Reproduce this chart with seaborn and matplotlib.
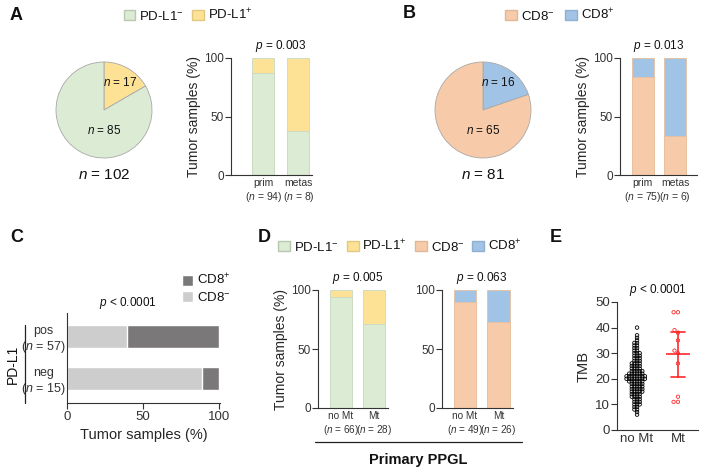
import numpy as np
import pandas as pd
import matplotlib
matplotlib.use("Agg")
import matplotlib.pyplot as plt
from matplotlib.patches import Patch
from matplotlib.lines import Line2D
import seaborn as sns

# Panel A: PD-L1 status
pdl1_pie_counts = [17, 85]          # PD-L1+, PD-L1-
pdl1_bar_groups = ["prim\n($n$ = 94)", "metas\n($n$ = 8)"]
pdl1_neg_pct = [87.2, 37.5]

# Panel B: CD8 status
cd8_pie_counts = [16, 65]           # CD8+, CD8-
cd8_bar_groups = ["prim\n($n$ = 75)", "metas\n($n$ = 6)"]
cd8_neg_pct = [84.0, 33.3]

# Panel C: CD8 by PD-L1 status
c_groups = ["pos\n($n$ = 57)", "neg\n($n$ = 15)"]
c_cd8_neg_pct = [39.7, 89.0]

# Panel D: primary PPGL, mutation vs no mutation
d_pdl1_groups = ["no Mt\n($n$ = 66)", "Mt\n($n$ = 28)"]
d_pdl1_neg_pct = [93.9, 71.4]
d_cd8_groups = ["no Mt\n($n$ = 49)", "Mt\n($n$ = 26)"]
d_cd8_neg_pct = [89.8, 73.1]

# Panel E: TMB
tmb_nomt_values = [6, 7, 8, 9, 10, 11, 12, 13, 14, 15, 16, 17, 18, 19, 20, 21, 22,
                   23, 24, 25, 26, 27, 28, 29, 30, 31, 32, 33, 34, 35, 36, 37, 40]
tmb_nomt_counts = [1, 1, 2, 2, 3, 3, 3, 4, 4, 5, 5, 5, 5, 6, 8, 8, 6,
                   5, 4, 4, 4, 3, 3, 3, 3, 2, 2, 2, 2, 1, 1, 1, 1]
tmb_mt = [46, 46, 39, 38, 35, 31, 30, 26, 13, 11, 11]

GREEN = "#dcebd4"
YELLOW = "#fde296"
PEACH = "#f7cbaa"
BLUE = "#a0c3e6"
LGRAY = "#cdcdcd"
DGRAY = "#7a7878"
RED = "#ff2a2a"

sns.set_style("ticks")
plt.rcParams["font.family"] = ["Liberation Sans", "DejaVu Sans"]
plt.rcParams["mathtext.fontset"] = "custom"
plt.rcParams["mathtext.rm"] = "Liberation Sans"
plt.rcParams["mathtext.it"] = "Liberation Sans:italic"
plt.rcParams["mathtext.bf"] = "Liberation Sans:bold"
plt.rcParams["axes.edgecolor"] = "#333333"
plt.rcParams["axes.linewidth"] = 0.8
plt.rcParams["xtick.color"] = "#333333"
plt.rcParams["ytick.color"] = "#333333"
plt.rcParams["text.color"] = "#111111"

W, H = 709, 474
fig = plt.figure(figsize=(W / 100, H / 100), dpi=100)


def px_axes(x0, y0, x1, y1):
    return fig.add_axes([x0 / W, 1 - y1 / H, (x1 - x0) / W, (y1 - y0) / H])


def fx(x):
    return x / W


def fy(y):
    return 1 - y / H


def pie_panel(ax, counts, colors, labels_pos, total_text):
    ax.pie(counts, colors=colors, startangle=90, counterclock=False,
           wedgeprops=dict(edgecolor="#a8a8a8", linewidth=0.6))
    ax.set_aspect("equal")
    (t1, p1), (t2, p2) = labels_pos
    ax.text(p1[0], p1[1], t1, ha="center", va="center", fontsize=8.5)
    ax.text(p2[0], p2[1], t2, ha="center", va="center", fontsize=8.5)
    ax.text(0, -1.35, total_text, ha="center", va="center", fontsize=11)


def stacked_vbars(ax, groups, neg, neg_color, pos_color, width, edge, xsize=7.5):
    sns.barplot(x=groups, y=[100] * len(groups), color=pos_color, saturation=1,
                width=width, edgecolor=edge, linewidth=0.6, errorbar=None, ax=ax)
    sns.barplot(x=groups, y=neg, color=neg_color, saturation=1,
                width=width, edgecolor=edge, linewidth=0.6, errorbar=None, ax=ax)
    ax.set_ylim(0, 100)
    ax.set_yticks([0, 50, 100])
    ax.tick_params(axis="y", labelsize=8.5, length=4, width=0.8, pad=1)
    ax.tick_params(axis="x", labelsize=xsize, length=0, pad=2)
    sns.despine(ax=ax)
    ax.set_xlabel("")


# ---------------- Panel A ----------------
fig.text(fx(10), fy(15), "A", fontsize=13, fontweight="bold", va="center")
axA_pie = px_axes(44, 50, 164, 170)
pie_panel(axA_pie, pdl1_pie_counts, [YELLOW, GREEN],
          [("$n$ = 17", (0.33, 0.58)), ("$n$ = 85", (0.0, -0.42))], "$n$ = 102")

axA = px_axes(231, 58, 312, 175)
stacked_vbars(axA, pdl1_bar_groups, pdl1_neg_pct, GREEN, YELLOW, 0.63, "#c9d9c1")
axA.set_xlim(-0.93, 1.39)
axA.set_ylabel("Tumor samples (%)", fontsize=10, labelpad=2)
axA.text(0.5, 103, "$p$ = 0.003", ha="center", va="bottom", fontsize=8.5)

fig.legend(handles=[Patch(facecolor=GREEN, edgecolor="#b8c8b0", label="PD-L1$^{-}$"),
                    Patch(facecolor=YELLOW, edgecolor="#e0c880", label="PD-L1$^{+}$")],
           loc="center", bbox_to_anchor=(fx(188), fy(15)), ncol=2, frameon=False,
           fontsize=9.5, handlelength=0.9, handleheight=0.9, handletextpad=0.3,
           columnspacing=0.6, borderpad=0)

# ---------------- Panel B ----------------
fig.text(fx(403), fy(14), "B", fontsize=13, fontweight="bold", va="center")
axB_pie = px_axes(423, 50, 543, 170)
pie_panel(axB_pie, cd8_pie_counts, [BLUE, PEACH],
          [("$n$ = 16", (0.32, 0.57)), ("$n$ = 65", (0.0, -0.42))], "$n$ = 81")

axB = px_axes(620, 58, 697, 175)
stacked_vbars(axB, cd8_bar_groups, cd8_neg_pct, PEACH, BLUE, 0.67, "#e8c0a0")
axB.set_xlim(-0.7, 1.67)
axB.set_ylabel("Tumor samples (%)", fontsize=10, labelpad=2)
axB.text(0.5, 103, "$p$ = 0.013", ha="center", va="bottom", fontsize=8.5)

fig.legend(handles=[Patch(facecolor=PEACH, edgecolor="#e0b898", label="CD8$^{-}$"),
                    Patch(facecolor=BLUE, edgecolor="#90b0d0", label="CD8$^{+}$")],
           loc="center", bbox_to_anchor=(fx(560), fy(15)), ncol=2, frameon=False,
           fontsize=9.5, handlelength=0.9, handleheight=0.9, handletextpad=0.3,
           columnspacing=0.8, borderpad=0)

# ---------------- Panel C ----------------
fig.text(fx(10), fy(238), "C", fontsize=13, fontweight="bold", va="center")
axC = px_axes(67, 313, 220, 403)
sns.barplot(x=[100] * len(c_groups), y=c_groups, orient="h", color=DGRAY, saturation=1,
            width=0.55, errorbar=None, ax=axC)
sns.barplot(x=c_cd8_neg_pct, y=c_groups, orient="h", color=LGRAY, saturation=1,
            width=0.55, errorbar=None, ax=axC)
axC.set_ylim(1.6, -0.57)
axC.set_xlim(0, 100.5)
axC.set_xticks([0, 50, 100])
axC.tick_params(axis="x", labelsize=9.5, length=4, width=0.8, pad=2)
axC.tick_params(axis="y", labelsize=9, length=0, pad=1)
for lab in axC.get_yticklabels():
    lab.set_multialignment("center")
sns.despine(ax=axC)
axC.set_xlabel("Tumor samples (%)", fontsize=10.5, labelpad=3)
axC.set_ylabel("")
axC.text(40, -0.62, "$p$ < 0.0001", ha="center", va="bottom", fontsize=8.5)
fig.add_artist(Line2D([fx(25), fx(25)], [fy(325), fy(403)], color="#222222", lw=0.9))
fig.text(fx(13), fy(364), "PD-L1", rotation=90, ha="center", va="center", fontsize=10)
fig.legend(handles=[Patch(facecolor=DGRAY, label="CD8$^{+}$"),
                    Patch(facecolor=LGRAY, label="CD8$^{-}$")],
           loc="upper left", bbox_to_anchor=(fx(175), fy(266)), ncol=1, frameon=False,
           fontsize=9.5, handlelength=0.9, handleheight=0.9, handletextpad=0.3,
           labelspacing=0.25, borderpad=0)

# ---------------- Panel D ----------------
fig.text(fx(258), fy(238), "D", fontsize=13, fontweight="bold", va="center")
axD1 = px_axes(318, 290, 388, 408)
stacked_vbars(axD1, d_pdl1_groups, d_pdl1_neg_pct, GREEN, YELLOW, 0.67, "#c9d9c1", 7.2)
axD1.set_xlim(-0.7, 1.42)
axD1.set_ylabel("Tumor samples (%)", fontsize=10, labelpad=2)
axD1.text(0.5, 103, "$p$ = 0.005", ha="center", va="bottom", fontsize=8.5)

axD2 = px_axes(442, 290, 513, 408)
stacked_vbars(axD2, d_cd8_groups, d_cd8_neg_pct, PEACH, BLUE, 0.67, "#e8c0a0", 7.2)
axD2.set_xlim(-0.69, 1.43)
axD2.set_ylabel("")
axD2.text(0.5, 103, "$p$ = 0.063", ha="center", va="bottom", fontsize=8.5)

fig.add_artist(Line2D([fx(315), fx(522)], [fy(442), fy(442)], color="#222222", lw=0.9))
fig.text(fx(418), fy(460), "Primary PPGL", ha="center", va="center",
         fontsize=10.5, fontweight="bold")
fig.legend(handles=[Patch(facecolor=GREEN, edgecolor="#b8c8b0", label="PD-L1$^{-}$"),
                    Patch(facecolor=YELLOW, edgecolor="#e0c880", label="PD-L1$^{+}$"),
                    Patch(facecolor=PEACH, edgecolor="#e0b898", label="CD8$^{-}$"),
                    Patch(facecolor=BLUE, edgecolor="#90b0d0", label="CD8$^{+}$")],
           loc="center", bbox_to_anchor=(fx(400), fy(246)), ncol=4, frameon=False,
           fontsize=9.5, handlelength=0.9, handleheight=0.9, handletextpad=0.3,
           columnspacing=0.6, borderpad=0)

# ---------------- Panel E ----------------
fig.text(fx(550), fy(238), "E", fontsize=13, fontweight="bold", va="center")
axE = px_axes(617, 302, 698, 430)
tmb_nomt = np.repeat(tmb_nomt_values, tmb_nomt_counts)
df_e = pd.DataFrame({
    "group": ["no Mt"] * len(tmb_nomt) + ["Mt"] * len(tmb_mt),
    "tmb": list(tmb_nomt) + tmb_mt,
})
order_e = ["no Mt", "Mt"]
# no Mt: packed tightly, markers enlarged afterwards so they overlap (GraphPad look)
sns.swarmplot(data=df_e[df_e["group"] == "no Mt"], x="group", y="tmb", order=order_e,
              color="black", size=1.8, ax=axE)
sns.swarmplot(data=df_e[df_e["group"] == "Mt"], x="group", y="tmb", order=order_e,
              color=RED, size=2.4, linewidth=0.6, ax=axE)
for coll in axE.collections:
    fc = coll.get_facecolors()
    coll.set_edgecolors(fc)
    coll.set_facecolor("none")
sns.pointplot(data=df_e[df_e["group"] == "Mt"], x="group", y="tmb", order=order_e,
              errorbar=("se", 2.228), capsize=0.35, color=RED, marker="_",
              markersize=17, markeredgewidth=1.2, linestyle="none",
              err_kws={"linewidth": 1.2}, ax=axE)
axE.set_xlim(-0.49, 1.49)
axE.set_ylim(0, 50)
axE.set_yticks([0, 10, 20, 30, 40, 50])
axE.tick_params(axis="y", labelsize=9.5, length=4, width=0.8, pad=1)
axE.tick_params(axis="x", labelsize=9.5, length=0, pad=2)
sns.despine(ax=axE)
axE.set_xlabel("")
axE.set_ylabel("TMB", fontsize=10.5, labelpad=3)
axE.text(0.5, 51.5, "$p$ < 0.0001", ha="center", va="bottom", fontsize=8.5)

# fix the swarm positions, then draw the no Mt circles larger
fig.canvas.draw()
nomt_points = axE.collections[0]
del nomt_points.draw
nomt_points.set_sizes([2.5 ** 2])
nomt_points.set_linewidth(0.6)

fig.savefig("out.png", dpi=100)
